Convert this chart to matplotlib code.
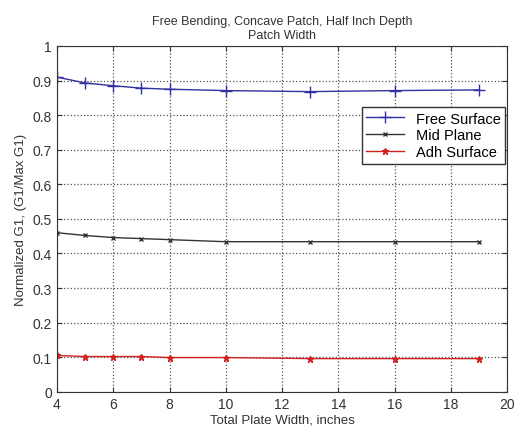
import matplotlib
matplotlib.use("Agg")
import matplotlib.pyplot as plt

plt.rcParams['font.family'] = ['Liberation Sans', 'DejaVu Sans']

width = [4, 5, 6, 7, 8, 10, 13, 16, 19]
free_surface = [0.910, 0.893, 0.885, 0.878, 0.875, 0.871, 0.868, 0.871, 0.873]
mid_plane = [0.460, 0.452, 0.446, 0.443, 0.440, 0.434, 0.434, 0.434, 0.434]
adh_surface = [0.105, 0.102, 0.102, 0.102, 0.099, 0.099, 0.096, 0.096, 0.096]

fig = plt.figure(figsize=(5.18, 4.35), dpi=100)
ax = fig.add_axes([0.110, 0.097, 0.869, 0.795])

ax.plot(width, free_surface, color='#3030a0', marker='+', markersize=8, linewidth=1, label='Free Surface')
ax.plot(width, mid_plane, color='#333333', marker='x', markersize=3.5, linewidth=1, label='Mid Plane')
ax.plot(width, adh_surface, color='#d02020', marker='*', markersize=5, linewidth=1, label='Adh Surface')

ax.set_xlim(4, 20)
ax.set_ylim(0, 1)
ax.set_xticks(range(4, 21, 2))
ax.set_yticks([i / 10 for i in range(11)])
ax.set_yticklabels(['0', '0.1', '0.2', '0.3', '0.4', '0.5', '0.6', '0.7', '0.8', '0.9', '1'])
ax.grid(True, linestyle=':', color='#555555', linewidth=0.9)
ax.tick_params(direction='in', labelsize=10, colors='#333333', top=True, right=True)
for s in ax.spines.values():
    s.set_color('#333333')

ax.set_xlabel('Total Plate Width, inches', fontsize=9.5, color='#333333', labelpad=2)
ax.set_ylabel('Normalized G1, (G1/Max G1)', fontsize=9.5, color='#333333', labelpad=4)
ax.set_title('Free Bending, Concave Patch, Half Inch Depth\nPatch Width', fontsize=9, color='#333333', pad=6)

leg = ax.legend(loc='upper right', bbox_to_anchor=(0.996, 0.823), fontsize=10.5, fancybox=False,
                framealpha=1, edgecolor='#333333', borderpad=0.3, labelspacing=0.2,
                handlelength=2.6, borderaxespad=0)
leg.get_frame().set_linewidth(1)

fig.savefig('out.png', dpi=100)
